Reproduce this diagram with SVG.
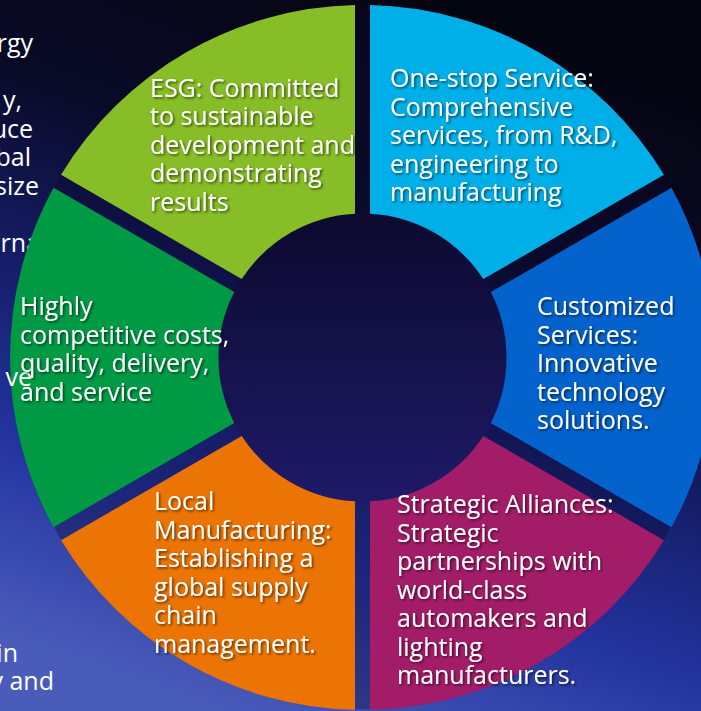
<svg xmlns="http://www.w3.org/2000/svg" width="701" height="711" viewBox="0 0 701 711">
<defs>
<linearGradient id="bg" x1="0.65" y1="0" x2="0.3" y2="1">
<stop offset="0" stop-color="#050511"/>
<stop offset="0.28" stop-color="#090a26"/>
<stop offset="0.5" stop-color="#141b62"/>
<stop offset="0.75" stop-color="#2334a0"/>
<stop offset="1" stop-color="#4a5cba"/>
</linearGradient>
<linearGradient id="core" x1="0" y1="0" x2="0" y2="1">
<stop offset="0" stop-color="#0c0a2e"/>
<stop offset="1" stop-color="#1e1a68"/>
</linearGradient>
<filter id="sh" x="-10%" y="-10%" width="130%" height="140%">
<feDropShadow dx="1.5" dy="1.5" stdDeviation="0.8" flood-color="#000" flood-opacity="0.6"/>
</filter>
</defs>
<style>
.t{font-family:"Open Sans","Noto Sans","DejaVu Sans",sans-serif;font-size:25px;fill:#ffffff}
.l{font-family:"Open Sans","Noto Sans","DejaVu Sans",sans-serif;font-size:25px;fill:#ffffff;text-anchor:end}
.lab{filter:url(#sh)}
</style>
<rect width="701" height="711" fill="url(#bg)"/>
<g id="background-text">
<text class="l" x="33" y="51.5">rgy</text>
<text class="l" x="22" y="109">y,</text>
<text class="l" x="33" y="137.5">uce</text>
<text class="l" x="31" y="166">bal</text>
<text class="l" x="39" y="194.5">size</text>
<text class="l" x="40" y="251.5">rna</text>
<text class="l" x="18" y="662">in</text>
<text class="l" x="54" y="690">y and</text>
</g>
<circle cx="362.5" cy="357.5" r="352" fill="#0c0a30" opacity="0.35"/>
<circle id="core-circle" cx="362.5" cy="357.5" r="146" fill="url(#core)"/>
<g id="seg-oneStop">
<path d="M370 5.08 A352.5 352.5 0 0 1 663.96 174.79 L483.29 279.1 A144 144 0 0 0 370 213.7 Z" fill="#00aee8"/>
<text class="t lab"><tspan x="390" y="87">One-stop Service:</tspan><tspan x="390" y="115.5">Comprehensive</tspan><tspan x="390" y="144">services, from R&amp;D,</tspan><tspan x="390" y="172.5">engineering to</tspan><tspan x="390" y="201">manufacturing</tspan></text>
</g>
<g id="seg-customized">
<path d="M671.46 187.78 A352.5 352.5 0 0 1 671.46 527.22 L490.79 422.91 A144 144 0 0 0 490.79 292.09 Z" fill="#0462cc"/>
<text class="t lab"><tspan x="537" y="315">Customized</tspan><tspan x="537" y="343.5">Services:</tspan><tspan x="537" y="372">Innovative</tspan><tspan x="537" y="400.5">technology</tspan><tspan x="537" y="429">solutions.</tspan></text>
</g>
<g id="seg-alliances">
<path d="M663.96 540.21 A352.5 352.5 0 0 1 370 709.92 L370 501.3 A144 144 0 0 0 483.29 435.9 Z" fill="#a31c68"/>
<text class="t lab"><tspan x="397" y="513">Strategic Alliances:</tspan><tspan x="397" y="541.5">Strategic</tspan><tspan x="397" y="570">partnerships with</tspan><tspan x="397" y="598.5">world-class</tspan><tspan x="397" y="627">automakers and</tspan><tspan x="397" y="655.5">lighting</tspan><tspan x="397" y="684">manufacturers.</tspan></text>
</g>
<g id="seg-local">
<path d="M355 709.92 A352.5 352.5 0 0 1 61.04 540.21 L241.71 435.9 A144 144 0 0 0 355 501.3 Z" fill="#ec7404"/>
<text class="t lab"><tspan x="154" y="510">Local</tspan><tspan x="154" y="538.5">Manufacturing:</tspan><tspan x="154" y="567">Establishing a</tspan><tspan x="154" y="595.5">global supply</tspan><tspan x="154" y="624">chain</tspan><tspan x="154" y="652.5">management.</tspan></text>
</g>
<g id="seg-competitive">
<path d="M53.54 527.22 A352.5 352.5 0 0 1 53.54 187.78 L234.21 292.09 A144 144 0 0 0 234.21 422.91 Z" fill="#009a44"/>
<text class="l" x="32" y="386">ve</text>
<text class="t lab"><tspan x="20" y="315">Highly</tspan><tspan x="20" y="343.5">competitive costs,</tspan><tspan x="20" y="372">quality, delivery,</tspan><tspan x="20" y="400.5">and service</tspan></text>
</g>
<g id="seg-esg">
<path d="M61.04 174.79 A352.5 352.5 0 0 1 355 5.08 L355 213.7 A144 144 0 0 0 241.71 279.1 Z" fill="#87bd26"/>
<text class="t lab"><tspan x="150" y="97">ESG: Committed</tspan><tspan x="150" y="125">to sustainable</tspan><tspan x="150" y="153.5">development and</tspan><tspan x="150" y="182">demonstrating</tspan><tspan x="150" y="210.5">results</tspan></text>
</g>
<g id="connectors"/>
</svg>
